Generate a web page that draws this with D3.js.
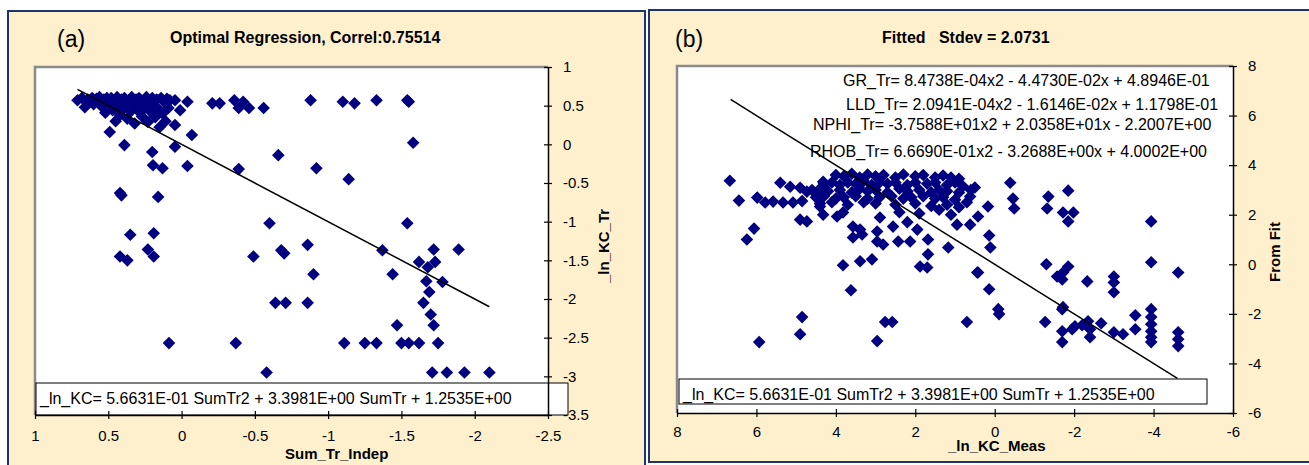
<!DOCTYPE html>
<html><head><meta charset="utf-8">
<script src="https://cdn.jsdelivr.net/npm/d3@7"></script>
<style>
html,body{margin:0;padding:0;background:#fff;}
svg{display:block;font-family:"Liberation Sans",Arial,sans-serif;}
</style></head>
<body>
<script>
// ---------- DATA ----------
const titleA = "Optimal Regression, Correl:0.75514";
const titleB = "Fitted   Stdev = 2.0731";
const xTitleA = "Sum_Tr_Indep", yTitleA = "_ln_KC_Tr";
const xTitleB = "_ln_KC_Meas", yTitleB = "From Fit";
const eqText = "_ln_KC= 5.6631E-01 SumTr2 + 3.3981E+00 SumTr + 1.2535E+00";
const trendLabels = [
  "GR_Tr= 8.4738E-04x2 - 4.4730E-02x + 4.8946E-01",
  "LLD_Tr= 2.0941E-04x2 - 1.6146E-02x + 1.1798E-01",
  "NPHI_Tr= -3.7588E+01x2 + 2.0358E+01x - 2.2007E+00",
  "RHOB_Tr= 6.6690E-01x2 - 3.2688E+00x + 4.0002E+00"
];
const xTicksA = [1, 0.5, 0, -0.5, -1, -1.5, -2, -2.5];
const yTicksA = [1, 0.5, 0, -0.5, -1, -1.5, -2, -2.5, -3, -3.5];
const xTicksB = [8, 6, 4, 2, 0, -2, -4, -6];
const yTicksB = [8, 6, 4, 2, 0, -2, -4, -6];
const fitLineA = [[0.71, 0.71], [-2.1, -2.1]];
const fitLineB = [[6.65, 6.65], [-4.6, -4.6]];

const pointsA = [
[0.71,0.57],[0.68,0.6],[0.66,0.48],[0.64,0.58],[0.61,0.6],[0.6,0.52],[0.58,0.59],[0.56,0.61],[0.55,0.5],[0.53,0.58],
[0.52,0.41],[0.51,0.6],[0.5,0.53],[0.49,0.16],[0.48,0.6],[0.47,0.44],[0.46,0.56],[0.45,0.3],[0.44,0.61],[0.43,0.5],
[0.42,0.38],[0.41,0.58],[0.4,0.45],[0.39,0.6],[0.38,0.52],[0.37,0.33],[0.36,0.57],[0.35,0.42],[0.34,0.61],[0.33,0.5],
[0.32,0.27],[0.31,0.58],[0.3,0.44],[0.29,0.6],[0.28,0.52],[0.27,0.36],[0.26,0.57],[0.25,0.47],[0.24,0.61],[0.23,0.29],
[0.22,0.55],[0.21,0.42],[0.2,0.6],[0.19,0.5],[0.18,0.35],[0.17,0.58],[0.16,0.46],[0.15,0.22],[0.14,0.6],[0.13,0.4],
[0.12,0.55],[0.11,0.3],[0.1,0.59],[0.09,0.47],[0.08,0.57],[0.045,0.57],[0.045,0.25],[0.01,0.44],[-0.04,0.55],[-0.07,0.12],
[-0.21,0.53],[-0.26,0.53],[-0.36,0.57],[-0.42,0.55],[-0.39,0.47],[-0.46,0.47],[-0.56,0.47],[-0.88,0.57],[-1.1,0.55],
[-1.18,0.53],[-1.33,0.57],[-1.54,0.57],[-1.55,0.55],[-1.58,0.02],
[0.39,-0.01],[0.2,-0.1],[0.045,-0.03],[-0.66,-0.14],[0.195,-0.27],[0.13,-0.31],[-0.04,-0.28],[-0.39,-0.32],[-0.92,-0.31],
[0.42,-0.63],[0.41,-0.66],[0.16,-0.68],[-0.6,-1.02],[0.35,-1.17],[0.19,-1.15],[0.42,-1.45],[0.37,-1.5],[0.23,-1.36],
[0.19,-1.45],[-0.49,-1.45],[-0.68,-1.37],[-0.7,-1.41],[-0.86,-1.3],[-0.9,-1.68],[-0.64,-2.05],[-0.71,-2.05],[-0.86,-2.05],
[-1.14,-0.45],[-1.54,-1.02],[-1.37,-1.37],[-1.62,-1.52],[-1.72,-1.36],[-1.89,-1.36],[-1.73,-1.52],[-1.68,-1.59],
[-1.44,-1.68],[-1.67,-1.77],[-1.78,-1.78],[-1.69,-1.91],[-1.65,-2.05],
[0.086,-2.57],[-0.37,-2.57],[-0.58,-2.95],
[-1.7,-2.2],[-1.72,-2.34],[-1.47,-2.34],[-1.11,-2.57],[-1.25,-2.57],[-1.33,-2.57],[-1.5,-2.57],[-1.55,-2.57],
[-1.62,-2.57],[-1.75,-2.57],[-1.71,-2.95],[-1.81,-2.95],[-1.93,-2.95],[-2.1,-2.95]
];

const pointsB = [
[6.67,3.37],[6.44,2.57],[6.06,1.44],[6.24,1.0],[5.98,2.69],[5.78,2.49],[5.58,2.53],[5.33,2.49],[5.08,2.49],[4.85,2.55],
[5.4,3.29],[5.15,3.13],[4.9,3.09],[4.73,2.93],[4.9,1.8],[4.73,1.73],[4.32,3.33],[4.47,2.89],[4.4,2.33],[4.32,2.0],
[3.97,1.93],[3.82,2.09],[3.57,1.52],[3.39,1.4],[3.57,1.08],[3.34,1.2],[2.96,1.32],[2.89,1.89],[2.96,0.92],[2.81,0.8],
[2.43,0.92],[2.13,0.92],[1.95,1.4],[1.68,1.0],[1.68,0.4],[1.88,-0.09],[1.7,-0.13],[1.17,0.68],[0.95,1.6],[0.62,1.6],
[0.62,2.73],[0.44,-0.33],[3.82,-0.04],[3.39,0.12],[3.09,0.2],[3.62,-1.05],[2.56,1.52],[2.2,1.7],
[4.0,3.6],[3.8,3.55],[3.6,3.65],[3.4,3.5],[3.2,3.62],[3.0,3.55],[2.8,3.6],[2.5,3.5],[2.3,3.62],[2.0,3.55],
[1.8,3.6],[1.5,3.5],[1.3,3.58],[1.1,3.5],[0.9,3.45],
[4.3,3.25],[4.1,3.3],[3.9,3.2],[3.7,3.3],[3.5,3.25],[3.3,3.35],[3.1,3.2],[2.9,3.3],[2.7,3.25],[2.5,3.3],
[2.2,3.2],[2.0,3.3],[1.7,3.25],[1.5,3.3],[1.2,3.2],[1.0,3.3],[0.8,3.15],[0.5,3.1],
[4.6,3.0],[4.4,3.05],[4.2,2.95],[3.9,3.0],[3.6,2.9],[3.4,3.05],[3.2,2.95],[3.0,3.0],[2.7,2.9],[2.4,3.05],
[2.2,2.95],[1.9,3.0],[1.6,2.9],[1.4,3.0],[1.2,2.95],[0.9,2.9],[0.6,3.0],
[4.5,2.7],[4.3,2.75],[4.0,2.65],[3.8,2.7],[3.5,2.75],[3.2,2.65],[2.9,2.7],[2.6,2.75],[2.3,2.65],[2.1,2.7],
[1.8,2.75],[1.5,2.65],[1.3,2.7],[1.0,2.6],[0.7,2.5],
[4.4,2.45],[4.1,2.5],[3.7,2.4],[3.3,2.5],[3.0,2.45],[2.5,2.4],[2.0,2.45],[1.6,2.35],[1.2,2.4],[0.9,2.3],
[2.4,2.1],[1.9,2.05],[1.4,2.2],[1.1,2.0],[0.42,1.93],[0.17,2.33],
[0.14,1.16],[0.11,0.68],[0.42,-0.33],[0.14,-1.01],[-0.09,-1.81],[0.7,-2.33],
[-0.39,3.29],[-0.46,2.65],[-0.49,2.25],[-1.35,2.73],[-1.32,2.25],[-1.85,2.97],[-1.72,2.09],[-1.85,1.73],[-1.98,2.09],
[-3.94,1.73],[-3.94,0.08],[-4.62,-0.33],[-1.3,0.0],[-1.85,-0.09],[-1.72,-0.33],[-1.57,-0.49],[-1.7,-0.61],
[-2.33,-0.69],[-3.0,-0.49],[-3.0,-0.73],[-3.0,-1.13],[-1.72,-1.73],
[-0.11,-2.01],[-1.27,-2.33],[-1.7,-1.81],[-1.7,-2.7],[-1.7,-3.14],[-1.95,-2.62],[-2.02,-2.5],[-2.2,-2.46],
[-2.35,-2.3],[-2.4,-2.62],[-2.4,-2.94],[-2.68,-2.38],[-3.0,-2.74],[-3.23,-2.82],[-3.54,-2.06],[-3.54,-2.62],
[-3.94,-1.81],[-3.94,-2.13],[-3.94,-2.42],[-3.94,-2.7],[-3.94,-2.94],[-3.94,-3.14],
[-4.62,-2.74],[-4.62,-3.02],[-4.62,-3.3],
[4.85,-2.13],[4.9,-2.82],[5.93,-3.14],[2.96,-3.1],[2.76,-2.33],[2.58,-2.33]
];

// ---------- DRAW ----------
const W = 1309, H = 465;
const svg = d3.select("body").append("svg").attr("width", W).attr("height", H);
const BG = "#FEF0CD", FRAME = "#1c3470", MARK = "#000080";

function diamond(g, pts, xs, ys) {
  g.selectAll("path.pt").data(pts).join("path").attr("class", "pt")
    .attr("d", "M0,-6.3L6.3,0L0,6.3L-6.3,0Z")
    .attr("transform", d => `translate(${xs(d[0])},${ys(d[1])})`)
    .attr("fill", MARK);
}

function panel(cfg) {
  const g = svg.append("g");
  g.append("rect").attr("x", cfg.fx).attr("y", cfg.fy).attr("width", cfg.fw).attr("height", cfg.fh)
    .attr("fill", BG).attr("stroke", FRAME).attr("stroke-width", 2);
  const xs = d3.scaleLinear().domain(cfg.xd).range([cfg.l, cfg.r]);
  const ys = d3.scaleLinear().domain(cfg.yd).range([cfg.t, cfg.b]);
  g.append("rect").attr("x", cfg.l).attr("y", cfg.t).attr("width", cfg.r - cfg.l).attr("height", cfg.b - cfg.t)
    .attr("fill", "#fff");
  g.append("path").attr("d", `M${cfg.l},${cfg.b}V${cfg.t}H${cfg.r}`).attr("fill", "none")
    .attr("stroke", "#8a8a8a").attr("stroke-width", 2.5);
  if (cfg.labels) {
    cfg.labels.forEach((s, i) => {
      g.append("text").attr("x", cfg.labelX[i]).attr("y", cfg.labelY[i]).attr("font-size", 16)
        .attr("fill", "#000").text(s);
    });
  }
  diamond(g.append("g"), cfg.pts, xs, ys);
  g.append("path").datum(cfg.line)
    .attr("d", d3.line().x(d => xs(d[0])).y(d => ys(d[1])))
    .attr("stroke", "#000").attr("stroke-width", 1.5).attr("fill", "none");
  g.append("rect").attr("x", cfg.ex).attr("y", cfg.ey).attr("width", cfg.ew).attr("height", cfg.eh)
    .attr("fill", "#fff").attr("stroke", "#000").attr("stroke-width", 1);
  g.append("text").attr("x", cfg.ex + 4).attr("y", cfg.etY).attr("font-size", 16).text(eqText);
  const fmt = d => String(d);
  const xa = g.append("g").attr("transform", `translate(0,${cfg.b})`)
    .call(d3.axisBottom(xs).tickValues(cfg.xt).tickFormat(fmt).tickSizeInner(4).tickSizeOuter(0).tickPadding(cfg.xPad));
  xa.selectAll(".tick line").attr("y1", -4).attr("y2", 4);
  const ya = g.append("g").attr("transform", `translate(${cfg.r},0)`)
    .call(d3.axisRight(ys).tickValues(cfg.yt).tickFormat(fmt).tickSizeInner(4).tickSizeOuter(0).tickPadding(11));
  ya.selectAll(".tick line").attr("x1", -4).attr("x2", 4);
  [xa, ya].forEach(a => {
    a.select(".domain").attr("stroke", "#000").attr("stroke-width", 1.5);
    a.selectAll(".tick line").attr("stroke", "#000").attr("stroke-width", 1.2);
    a.selectAll("text").attr("font-size", 15).attr("fill", "#000")
      .attr("font-family", '"Liberation Sans",Arial,sans-serif');
  });
  g.append("text").attr("x", cfg.tagX).attr("y", 47).attr("font-size", 23).text(cfg.tag);
  g.append("text").attr("x", cfg.titleX).attr("y", 43).attr("font-size", 16).attr("font-weight", "bold")
    .style("white-space", "pre").text(cfg.title);
  g.append("text").attr("x", cfg.xtX).attr("y", cfg.xtY).attr("font-size", 15).attr("font-weight", "bold").text(cfg.xTitle);
  g.append("text").attr("transform", `translate(${cfg.ytX},${cfg.ytY}) rotate(-90)`)
    .attr("text-anchor", "middle").attr("font-size", 15).attr("font-weight", "bold").text(cfg.yTitle);
}

panel({
  fx: 8, fy: 11, fw: 637, fh: 470,
  l: 35, r: 548, t: 67, b: 415, xPad: 11,
  xd: [1, -2.5], yd: [1, -3.5], xt: xTicksA, yt: yTicksA,
  pts: pointsA, line: fitLineA,
  ex: 36, ey: 383, ew: 532, eh: 32, etY: 404,
  tag: "(a)", tagX: 57, title: titleA, titleX: 170,
  xTitle: xTitleA, xtX: 285, xtY: 459,
  yTitle: yTitleA, ytX: 609, ytY: 246
});

panel({
  fx: 649, fy: 10, fw: 700, fh: 452,
  l: 677, r: 1233, t: 66, b: 413, xPad: 9,
  xd: [8, -6], yd: [8, -6], xt: xTicksB, yt: yTicksB,
  pts: pointsB, line: fitLineB,
  ex: 679, ey: 379, ew: 528, eh: 25, etY: 400,
  tag: "(b)", tagX: 675, title: titleB, titleX: 882,
  xTitle: xTitleB, xtX: 948, xtY: 451,
  yTitle: yTitleB, ytX: 1280, ytY: 252,
  labels: trendLabels, labelX: [843, 846, 813, 810], labelY: [86, 110, 130, 157]
});
</script>
</body></html>
